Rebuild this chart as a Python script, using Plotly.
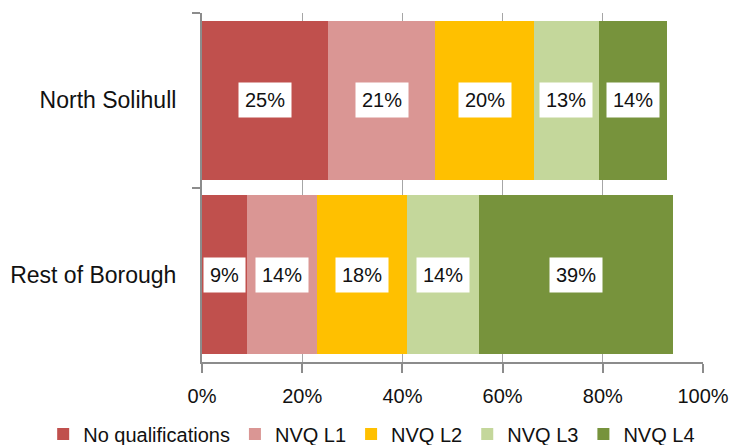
import plotly.graph_objects as go

categories = ["North Solihull", "Rest of Borough"]
series_names = ["No qualifications", "NVQ L1", "NVQ L2", "NVQ L3", "NVQ L4"]
no_qualifications = [25.2, 9.0]
nvq_l1 = [21.4, 13.9]
nvq_l2 = [19.6, 18.1]
nvq_l3 = [13.0, 14.2]
nvq_l4 = [13.6, 38.9]
colors = ["#C0504D", "#DA9694", "#FFC000", "#C4D79B", "#77933C"]
x_ticks = [0, 20, 40, 60, 80, 100]
x_tick_labels = ["0%", "20%", "40%", "60%", "80%", "100%"]

series_values = [no_qualifications, nvq_l1, nvq_l2, nvq_l3, nvq_l4]
FONT = "Liberation Sans, Arial, sans-serif"

fig = go.Figure()
for name, vals, col in zip(series_names, series_values, colors):
    fig.add_trace(go.Bar(
        y=categories, x=vals, name=name, orientation="h",
        marker=dict(color=col, line=dict(width=0)),
        hoverinfo="x+name",
    ))

# data labels in white boxes, centred on each segment
base = [0.0] * len(categories)
for vals in series_values:
    for i, cat in enumerate(categories):
        fig.add_annotation(
            x=base[i] + vals[i] / 2, y=cat, xref="x", yref="y",
            text=f"{vals[i]:.0f}%", showarrow=False,
            font=dict(family=FONT, size=20, color="#111111"),
            bgcolor="white", borderpad=6,
        )
        base[i] += vals[i]

fig.update_layout(
    barmode="stack",
    bargap=0.09,
    width=732, height=445,
    margin=dict(l=202, r=29, t=13, b=83, autoexpand=False),
    paper_bgcolor="white", plot_bgcolor="white",
    font=dict(family=FONT, size=20, color="#111111"),
    showlegend=True,
    legend=dict(
        orientation="h", xref="paper", yref="paper",
        x=-0.317, xanchor="left", y=-0.206, yanchor="middle",
        font=dict(family=FONT, size=20, color="#111111"),
        traceorder="normal",
    ),
    xaxis=dict(
        range=[0, 100], tickvals=x_ticks, ticktext=x_tick_labels,
        showgrid=True, gridcolor="#A6A6A6", gridwidth=1,
        showline=True, linecolor="#8C8C8C", linewidth=2,
        ticks="outside", ticklen=9, tickcolor="#8C8C8C", tickwidth=1.5,
        ticklabelstandoff=6, zeroline=False,
        tickfont=dict(family=FONT, size=20, color="#111111"),
    ),
    yaxis=dict(
        type="category", autorange="reversed",
        showline=True, linecolor="#8C8C8C", linewidth=2,
        ticks="outside", tickson="boundaries", ticklen=8,
        tickcolor="#8C8C8C", tickwidth=1.5,
        ticklabelstandoff=19, showgrid=False,
        tickfont=dict(family=FONT, size=23, color="#111111"),
    ),
)

fig.write_html(
    "out.html",
    config={"displayModeBar": False},
    post_script="document.body.style.margin='0';document.body.style.overflow='hidden';",
)
